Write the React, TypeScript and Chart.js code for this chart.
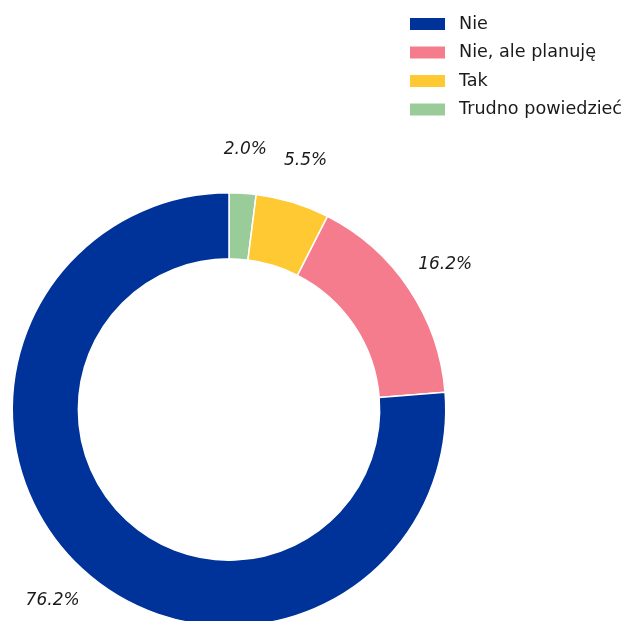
import React, { useEffect, useRef } from "react";
import { Chart, registerables } from "chart.js";

Chart.register(...registerables);

// Legend order (top to bottom)
const categories = ["Nie", "Nie, ale planuję", "Tak", "Trudno powiedzieć"];
const values = [76.2, 16.2, 5.5, 2.0];
const colors = ["#003399", "#F47C8C", "#FFC933", "#99CC99"];
const valueLabels = ["76.2%", "16.2%", "5.5%", "2.0%"];

const FONT = "'DejaVu Sans', sans-serif";

// Drawn clockwise from the top: reversed order reproduces the counter-clockwise layout
const drawOrder = [3, 2, 1, 0];

const pctLabelPlugin = {
  id: "pctLabels",
  afterDatasetsDraw(chart: any) {
    const ctx = chart.ctx;
    const meta = chart.getDatasetMeta(0);
    ctx.save();
    ctx.font = `italic 17px ${FONT}`;
    ctx.fillStyle = "#1a1a1a";
    ctx.textAlign = "center";
    ctx.textBaseline = "middle";
    meta.data.forEach((arc: any, i: number) => {
      const p = arc.getProps(["x", "y", "startAngle", "endAngle", "outerRadius"], true);
      const mid = (p.startAngle + p.endAngle) / 2;
      const r = p.outerRadius * 1.2;
      ctx.fillText(valueLabels[drawOrder[i]], p.x + Math.cos(mid) * r, p.y + Math.sin(mid) * r);
    });
    ctx.restore();
  },
};

const legendPlugin = {
  id: "customLegend",
  afterDraw(chart: any) {
    const ctx = chart.ctx;
    ctx.save();
    ctx.font = `17.6px ${FONT}`;
    ctx.textBaseline = "middle";
    ctx.textAlign = "left";
    categories.forEach((c, i) => {
      const y = 24 + i * 28.5;
      ctx.fillStyle = colors[i];
      ctx.fillRect(410, y - 6, 35, 12);
      ctx.fillStyle = "#1a1a1a";
      ctx.fillText(c, 459, y);
    });
    ctx.restore();
  },
};

export default function App() {
  const ref = useRef<HTMLCanvasElement>(null);
  useEffect(() => {
    if (!ref.current) return;
    const chart = new Chart(ref.current, {
      type: "doughnut",
      data: {
        labels: drawOrder.map((i) => categories[i]),
        datasets: [
          {
            data: drawOrder.map((i) => values[i]),
            backgroundColor: drawOrder.map((i) => colors[i]),
            borderColor: "#ffffff",
            borderWidth: 1.5,
          },
        ],
      },
      options: {
        responsive: false,
        animation: false,
        cutout: "69.5%",
        layout: { padding: { left: 11, right: 178, top: 192, bottom: 13 } },
        plugins: {
          legend: { display: false },
          tooltip: { enabled: false },
        },
      },
      plugins: [pctLabelPlugin, legendPlugin],
    });
    return () => chart.destroy();
  }, []);
  return (
    <div style={{ position: "absolute", left: 0, top: 0, width: 625, height: 621, overflow: "hidden", background: "#fff" }}>
      <canvas ref={ref} width={625} height={640} style={{ display: "block" }} />
    </div>
  );
}
